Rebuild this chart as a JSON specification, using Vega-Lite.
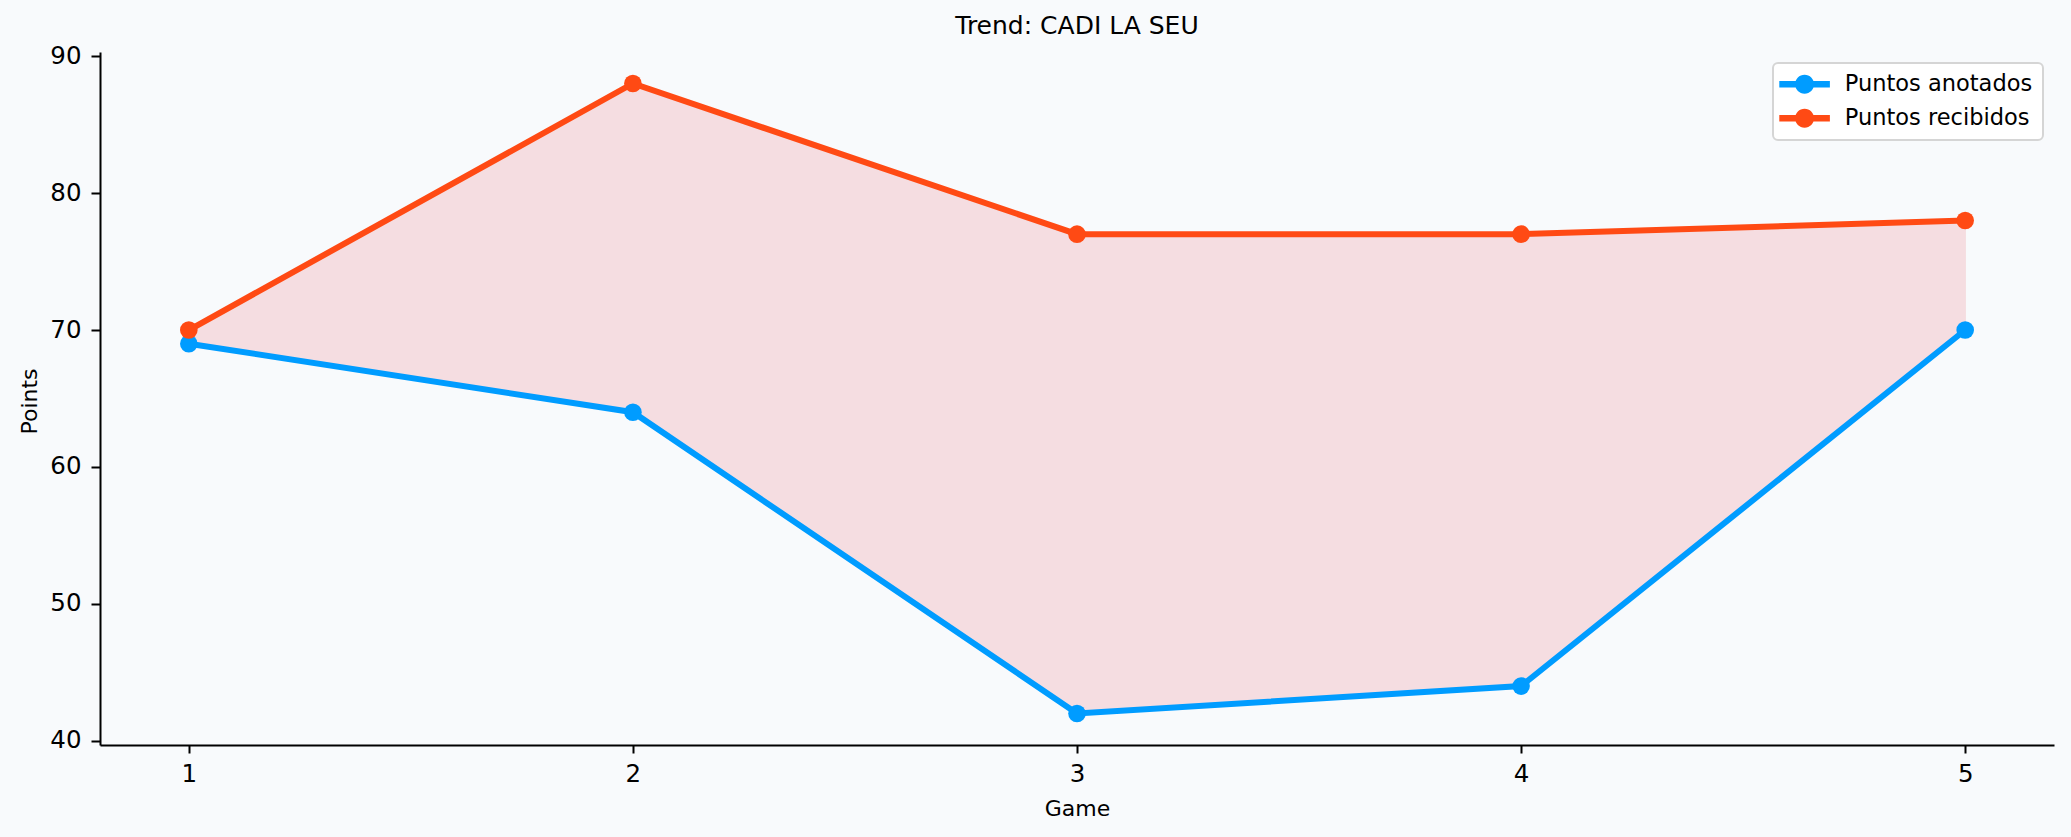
{
  "$schema": "https://vega.github.io/schema/vega-lite/v6.json",
  "autosize": {"type": "none"},
  "width": 1954,
  "height": 693,
  "padding": {"left": 100, "top": 52, "right": 17, "bottom": 92},
  "background": "#F8FAFC",
  "title": {
    "text": "Trend: CADI LA SEU",
    "font": "DejaVu Sans",
    "fontSize": 25,
    "fontWeight": "normal",
    "color": "#000000",
    "frame": "group",
    "anchor": "middle",
    "baseline": "alphabetic",
    "offset": 15,
    "dy": 31
  },
  "config": {
    "view": {"stroke": null},
    "axis": {"grid": false}
  },
  "data": {
    "values": [
      {"game": 1, "Puntos anotados": 69, "Puntos recibidos": 70},
      {"game": 2, "Puntos anotados": 64, "Puntos recibidos": 88},
      {"game": 3, "Puntos anotados": 42, "Puntos recibidos": 77},
      {"game": 4, "Puntos anotados": 44, "Puntos recibidos": 77},
      {"game": 5, "Puntos anotados": 70, "Puntos recibidos": 78}
    ]
  },
  "layer": [
    {
      "mark": {"type": "area", "color": "#E8404C", "opacity": 0.15, "stroke": "#E8404C", "strokeWidth": 1.5},
      "encoding": {
        "x": {
          "field": "game", "type": "quantitative", "title": "Game",
          "scale": {"domain": [0.8, 5.2], "nice": false, "zero": false},
          "axis": {
            "values": [1, 2, 3, 4, 5], "format": "d",
            "domainColor": "#000000", "domainWidth": 2,
            "tickColor": "#000000", "tickWidth": 2, "tickSize": 8,
            "labelFont": "DejaVu Sans", "labelFontSize": 24.5, "labelColor": "#000000",
            "labelBaseline": "alphabetic", "labelPadding": 28.7,
            "titleFont": "DejaVu Sans", "titleFontSize": 22, "titleFontWeight": "normal", "titleColor": "#000000",
            "titleBaseline": "alphabetic", "titleY": 70
          }
        },
        "y": {
          "field": "Puntos anotados", "type": "quantitative", "title": "Points",
          "scale": {"domain": [39.7, 90.3], "nice": false, "zero": false},
          "axis": {
            "values": [40, 50, 60, 70, 80, 90],
            "domainColor": "#000000", "domainWidth": 2,
            "tickColor": "#000000", "tickWidth": 2, "tickSize": 9,
            "labelFont": "DejaVu Sans", "labelFontSize": 24.5, "labelColor": "#000000",
            "labelPadding": 10,
            "titleFont": "DejaVu Sans", "titleFontSize": 22, "titleFontWeight": "normal", "titleColor": "#000000",
            "titleBaseline": "alphabetic", "titleX": -63.3, "titleY": 349, "titleAngle": 270
          }
        },
        "y2": {"field": "Puntos recibidos"}
      }
    },
    {
      "transform": [{"fold": ["Puntos anotados", "Puntos recibidos"], "as": ["serie", "pts"]}],
      "mark": {"type": "line", "strokeWidth": 6},
      "encoding": {
        "x": {"field": "game", "type": "quantitative", "title": "Game"},
        "y": {"field": "pts", "type": "quantitative", "title": "Points"},
        "color": {
          "field": "serie", "type": "nominal",
          "scale": {"domain": ["Puntos anotados", "Puntos recibidos"], "range": ["#009CFF", "#FF4A14"]},
          "legend": {
            "title": null,
            "orient": "top-right",
            "offset": 11,
            "labelFont": "DejaVu Sans",
            "labelFontSize": 22.5,
            "labelColor": "#000000",
            "labelLimit": 500,
            "symbolType": "M-1.36,-0.29L3.24,-0.29L3.24,0.29L-1.36,0.29Z M0.08,0A0.86,0.86 0 1,1 1.8,0A0.86,0.86 0 1,1 0.08,0Z",
            "symbolSize": 484,
            "symbolStrokeWidth": 0,
            "symbolOpacity": 1,
            "labelOffset": 39.3,
            "rowPadding": 11,
            "padding": 10,
            "fillColor": "#FFFFFF",
            "strokeColor": "#D5D5D5",
            "cornerRadius": 5,
            "encode": {
              "symbols": {"update": {"fill": {"scale": "color", "field": "value"}, "stroke": {"value": "transparent"}}},
              "legend": {"update": {"strokeWidth": {"value": 2}}}
            }
          }
        }
      }
    },
    {
      "transform": [{"fold": ["Puntos anotados", "Puntos recibidos"], "as": ["serie", "pts"]}],
      "mark": {"type": "point", "filled": true, "size": 310, "opacity": 1},
      "encoding": {
        "x": {"field": "game", "type": "quantitative", "title": "Game"},
        "y": {"field": "pts", "type": "quantitative", "title": "Points"},
        "color": {"field": "serie", "type": "nominal"}
      }
    }
  ]
}
